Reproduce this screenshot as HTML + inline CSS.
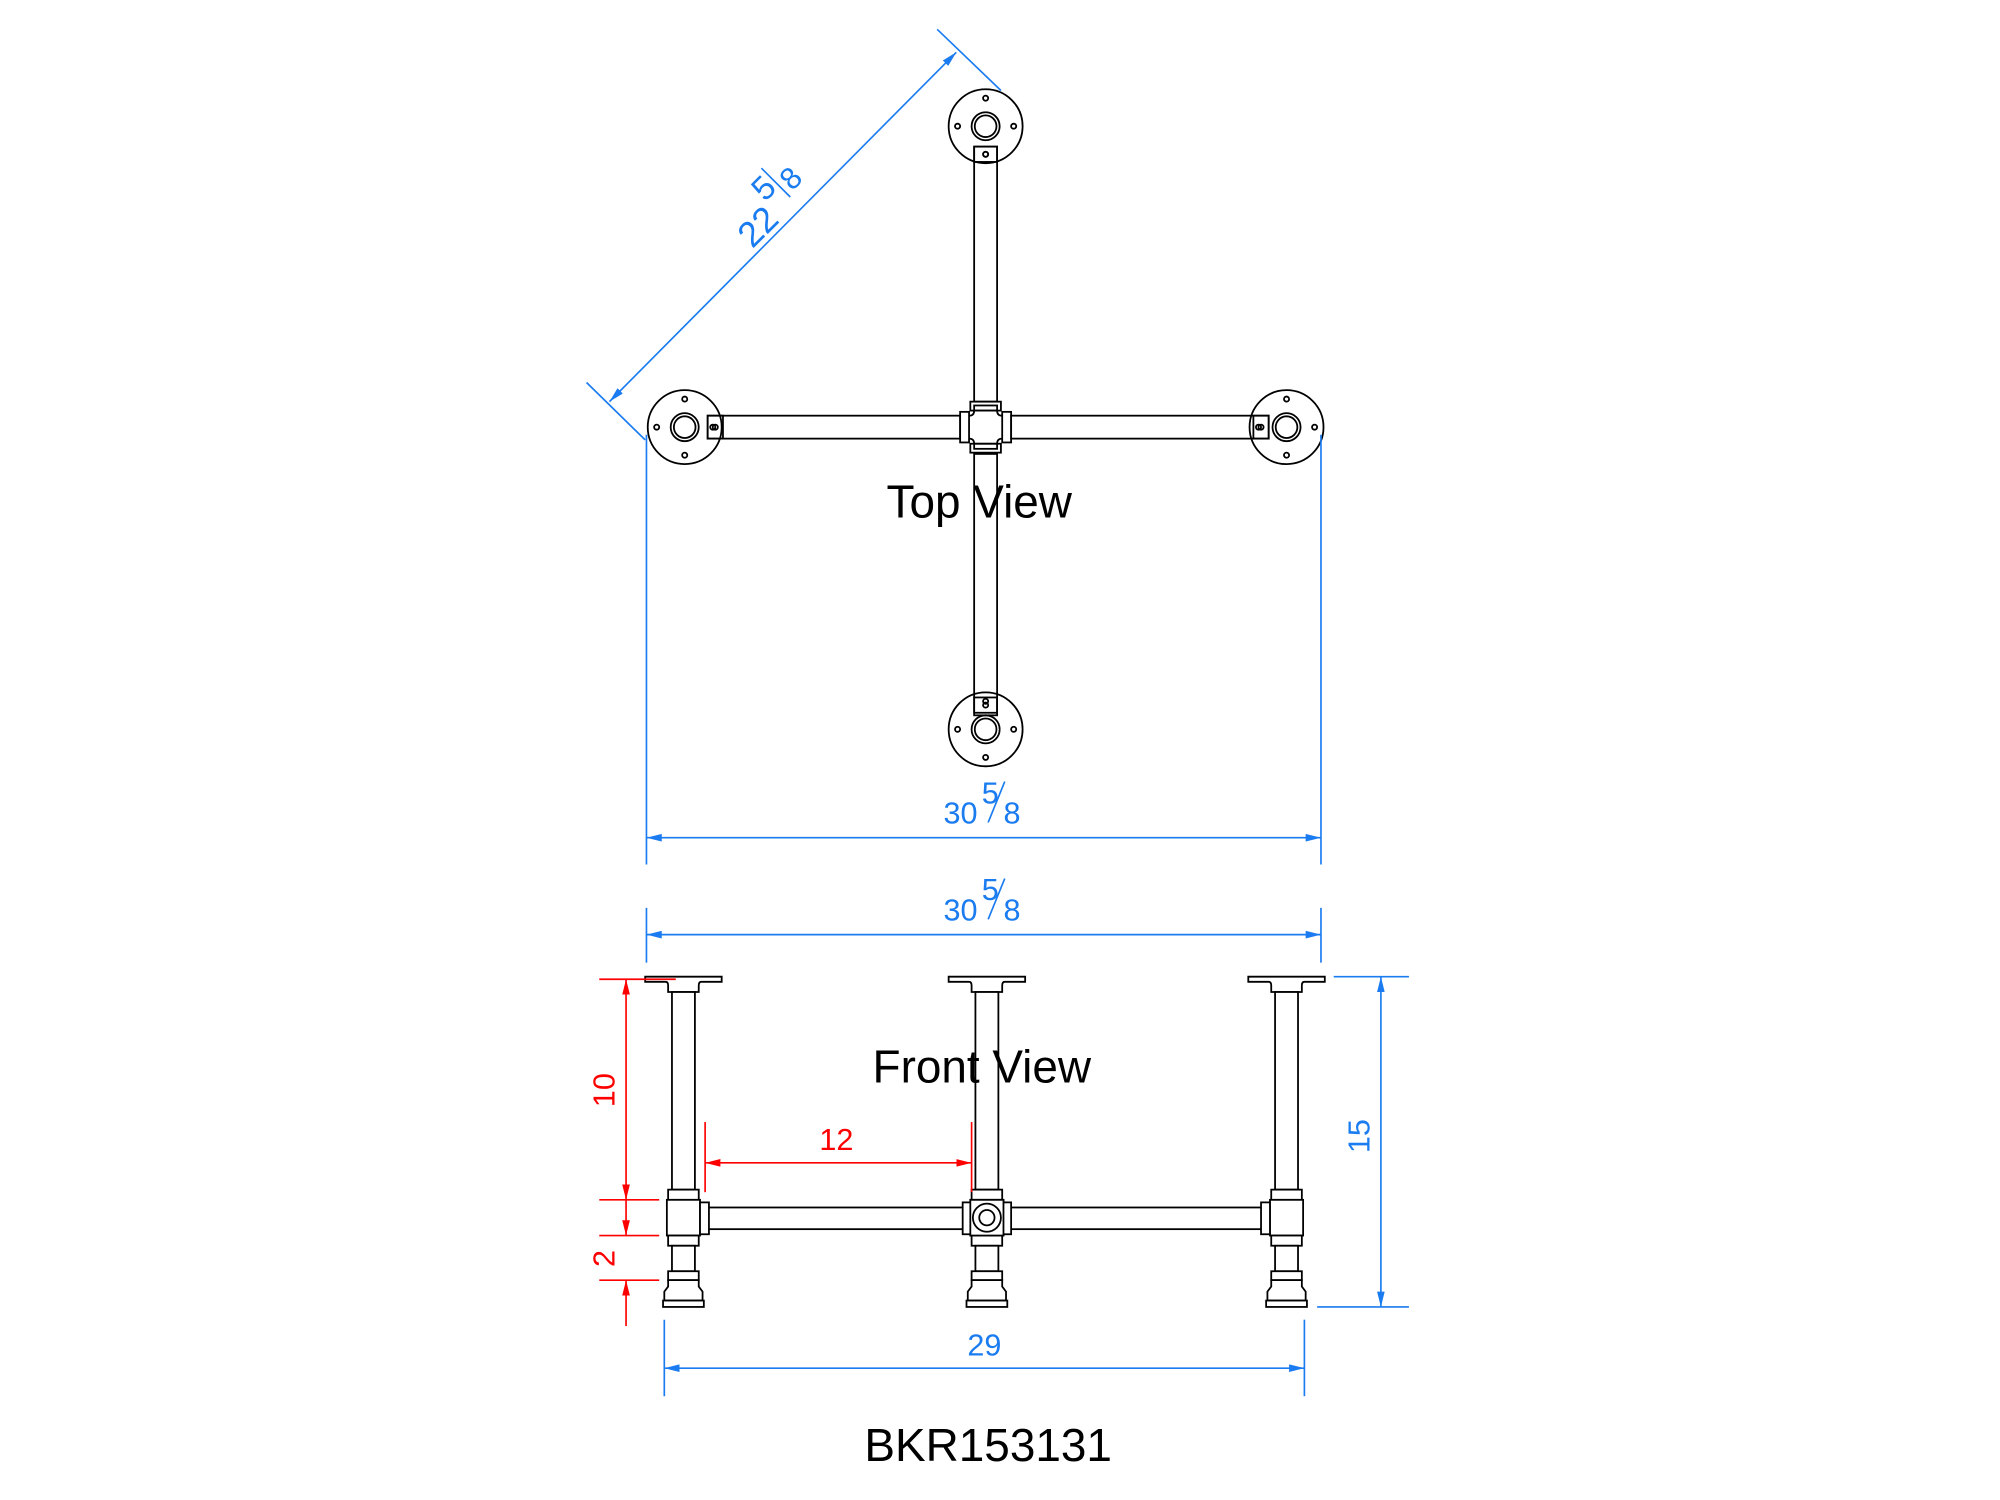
<!DOCTYPE html>
<html><head><meta charset="utf-8"><style>
html,body{margin:0;padding:0;background:#fff;}
svg{display:block;}
text{font-family:"Liberation Sans",sans-serif;}
</style></head><body>
<svg width="2000" height="1500" viewBox="0 0 1556 1167" xmlns="http://www.w3.org/2000/svg">
<defs>
<marker id="ab" viewBox="0 0 12 6" refX="12" refY="3" markerWidth="12" markerHeight="6" orient="auto-start-reverse" markerUnits="userSpaceOnUse"><path d="M0,0 L12,3 L0,6 Z" fill="#1a7cf0"/></marker>
<marker id="ar" viewBox="0 0 12 6" refX="12" refY="3" markerWidth="12" markerHeight="6" orient="auto-start-reverse" markerUnits="userSpaceOnUse"><path d="M0,0 L12,3 L0,6 Z" fill="#f00"/></marker>
<g id="fl" fill="none" stroke="#000" stroke-width="1.4">
<circle r="29"/><circle r="11"/><circle r="8.5"/>
<circle cx="0" cy="-22" r="2"/><circle cx="0" cy="22" r="2"/><circle cx="-22" cy="0" r="2"/><circle cx="22" cy="0" r="2"/>
</g>
<g id="leg" fill="#fff" stroke="#000" stroke-width="1.4">
<path d="M-30,759 H30 V763 H14 Q12,763 12,766 V771 H-12 V766 Q-12,763 -14,763 H-30 Z"/>
<rect x="-9" y="771" width="18" height="155"/>
<rect x="-12" y="926" width="24" height="8"/>
<rect x="-13" y="934" width="26" height="28"/>
<rect x="-12" y="962" width="24" height="8"/>
<rect x="-9" y="970" width="18" height="20"/>
<rect x="-12" y="990" width="24" height="7"/>
<path d="M-12,997 L-12,1002 L-15,1006 L-15,1013 L15,1013 L15,1006 L12,1002 L12,997 Z"/>
<rect x="-16" y="1013" width="32" height="5"/>
</g>
</defs>
<g transform="scale(0.992)">
<!-- TOP VIEW -->
<g transform="translate(5,2)">
<g fill="#fff" stroke="#000" stroke-width="1.4">
<rect x="759" y="113" width="18" height="200"/>
<rect x="759" y="354" width="18" height="205"/>
<rect x="550" y="324" width="198" height="18"/>
<rect x="788" y="324" width="202" height="18"/>
</g>
<use href="#fl" x="768" y="97"/>
<use href="#fl" x="768" y="570"/>
<use href="#fl" x="532" y="333"/>
<use href="#fl" x="1004" y="333"/>
<g fill="none" stroke="#000" stroke-width="1.4">
<rect x="759" y="113" width="18" height="12"/><circle cx="768" cy="119" r="2"/>
<rect x="759" y="545" width="18" height="12"/><circle cx="768" cy="551" r="2"/>
<rect x="550" y="324" width="12" height="18"/><circle cx="556" cy="333" r="2"/>
<rect x="978" y="324" width="12" height="18"/><circle cx="984" cy="333" r="2"/>
<rect x="756" y="313" width="24" height="7"/><rect x="759" y="316" width="18" height="4"/>
<rect x="756" y="346" width="24" height="7"/><rect x="759" y="346" width="18" height="4"/>
<rect x="748" y="321" width="7" height="24"/>
<rect x="781" y="321" width="7" height="24"/>
<path d="M759,320 Q759,324 755,324 M777,320 Q777,324 781,324 M759,346 Q759,342 755,342 M777,346 Q777,342 781,342"/>
</g>
</g>
<text x="768" y="406" font-size="36" text-anchor="middle">Top View</text>

<!-- blue dims top -->
<g stroke="#1a7cf0" stroke-width="1.3" fill="none">
<line x1="735" y1="23" x2="785" y2="71"/>
<line x1="460" y1="300" x2="506" y2="345"/>
<line x1="478" y1="315" x2="750" y2="41" marker-start="url(#ab)" marker-end="url(#ab)"/>
<line x1="507" y1="341" x2="507" y2="678"/>
<line x1="1036" y1="341" x2="1036" y2="678"/>
<line x1="507" y1="657" x2="1036" y2="657" marker-start="url(#ab)" marker-end="url(#ab)"/>
<line x1="507" y1="712" x2="507" y2="755"/>
<line x1="1036" y1="712" x2="1036" y2="755"/>
<line x1="507" y1="733" x2="1036" y2="733" marker-start="url(#ab)" marker-end="url(#ab)"/>
<line x1="775" y1="645" x2="788" y2="613"/>
<line x1="775" y1="721" x2="788" y2="689"/>
</g>
<g fill="#1a7cf0" font-size="24">
<g transform="translate(600,163) rotate(-45)">
<text x="-30" y="16" font-size="28">22</text>
<text x="3" y="-3" font-size="26">5</text>
<line x1="20" y1="-24" x2="20" y2="8" stroke="#1a7cf0" stroke-width="1.3"/>
<text x="24" y="6" font-size="24">8</text>
</g>
<text x="740" y="646">30</text><text x="770" y="630">5</text><text x="787" y="646">8</text>
<text x="740" y="722">30</text><text x="770" y="706">5</text><text x="787" y="722">8</text>
</g>

<!-- FRONT VIEW -->
<g transform="translate(0,7)">
<g fill="#fff" stroke="#000" stroke-width="1.4">
<rect x="553" y="940" width="206" height="17"/>
<rect x="789" y="940" width="206" height="17"/>
</g>
<use href="#leg" x="536"/>
<use href="#leg" x="774"/>
<use href="#leg" x="1009"/>
<g fill="#fff" stroke="#000" stroke-width="1.4">
<rect x="549" y="936" width="7" height="25"/>
<rect x="989" y="936" width="7" height="25"/>
<rect x="755" y="936" width="7" height="25"/>
<rect x="786" y="936" width="7" height="25"/>
<rect x="761" y="934" width="26" height="28"/>
<circle cx="774" cy="948" r="11"/><circle cx="774" cy="948" r="6"/>
</g>
</g>
<text x="770" y="849" font-size="36" text-anchor="middle">Front View</text>

<!-- red dims -->
<g stroke="#f00" stroke-width="1.3" fill="none">
<line x1="470" y1="768" x2="530" y2="768"/>
<line x1="470" y1="941" x2="517" y2="941"/>
<line x1="470" y1="969" x2="517" y2="969"/>
<line x1="470" y1="1004" x2="517" y2="1004"/>
<line x1="491" y1="768" x2="491" y2="941" marker-start="url(#ar)" marker-end="url(#ar)"/>
<line x1="491" y1="941" x2="491" y2="969" marker-end="url(#ar)"/>
<line x1="491" y1="1040" x2="491" y2="1004" marker-end="url(#ar)"/>
<line x1="553" y1="880" x2="553" y2="935"/>
<line x1="762" y1="880" x2="762" y2="935"/>
<line x1="553" y1="912" x2="762" y2="912" marker-start="url(#ar)" marker-end="url(#ar)"/>
</g>
<g fill="#f00" font-size="24">
<text x="656" y="902" text-anchor="middle">12</text>
<text transform="translate(482,855) rotate(-90)" text-anchor="middle">10</text>
<text transform="translate(482,987) rotate(-90)" text-anchor="middle">2</text>
</g>

<!-- blue dims front -->
<g stroke="#1a7cf0" stroke-width="1.3" fill="none">
<line x1="1046" y1="766" x2="1105" y2="766"/>
<line x1="1033" y1="1025" x2="1105" y2="1025"/>
<line x1="1083" y1="766" x2="1083" y2="1025" marker-start="url(#ab)" marker-end="url(#ab)"/>
<line x1="521" y1="1035" x2="521" y2="1095"/>
<line x1="1023" y1="1035" x2="1023" y2="1095"/>
<line x1="521" y1="1073" x2="1023" y2="1073" marker-start="url(#ab)" marker-end="url(#ab)"/>
</g>
<g fill="#1a7cf0" font-size="24">
<text x="772" y="1063" text-anchor="middle">29</text>
<text transform="translate(1074,891) rotate(-90)" text-anchor="middle">15</text>
</g>

<text x="775" y="1146" font-size="36" text-anchor="middle">BKR153131</text>
</g>
</svg>
</body></html>
